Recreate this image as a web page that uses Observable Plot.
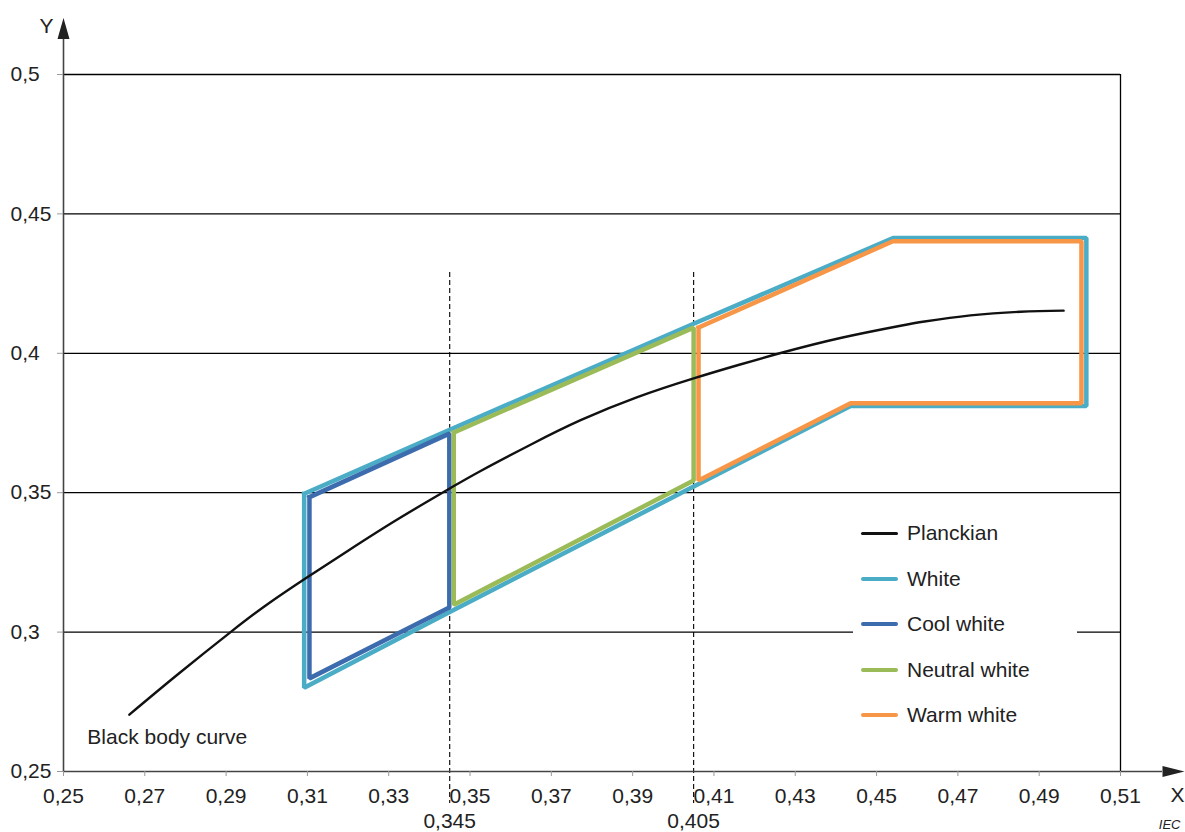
<!DOCTYPE html>
<html>
<head>
<meta charset="utf-8">
<script src="https://cdn.jsdelivr.net/npm/d3@7"></script>
<script src="https://cdn.jsdelivr.net/npm/@observablehq/plot@0.6"></script>
<style>
  html, body { margin: 0; padding: 0; background: #fff; overflow: hidden; }
  #wrap { position: relative; width: 1185px; height: 832px; font-family: "Liberation Sans", Arial, sans-serif; }
  #legend { position: absolute; left: 853px; top: 506px; width: 224px; height: 234px; background: #fff; }
  .item { position: absolute; left: 0; height: 24px; display: flex; align-items: center; font-size: 21px; color: #222; }
  .sw { display: inline-block; width: 37px; margin-left: 8px; margin-right: 9px; border-radius: 2px; }
</style>
</head>
<body>
<div id="wrap"></div>
<script>
// ---- data ----
const xTicks = [0.25, 0.27, 0.29, 0.31, 0.33, 0.35, 0.37, 0.39, 0.41, 0.43, 0.45, 0.47, 0.49, 0.51];
const yTicks = [0.25, 0.3, 0.35, 0.4, 0.45, 0.5];
const yGrid = [0.3, 0.35, 0.4, 0.45, 0.5];
const dashX = [0.345, 0.405];

const planckX = [0.2662, 0.2780, 0.2911, 0.3000, 0.3095, 0.3200, 0.3320, 0.3450, 0.3526, 0.3650, 0.3772, 0.3910, 0.4050, 0.4160, 0.4264, 0.4411, 0.4559, 0.4618, 0.4731, 0.4854, 0.4960];
const planckY = [0.2704, 0.2847, 0.3000, 0.3098, 0.3192, 0.3292, 0.3403, 0.3515, 0.3578, 0.3673, 0.3760, 0.3842, 0.3910, 0.3958, 0.4001, 0.4055, 0.4099, 0.4114, 0.4136, 0.4149, 0.4153];

const whiteX = [0.3092, 0.3450, 0.4050, 0.4542, 0.5016, 0.5016, 0.4436, 0.4050, 0.3450, 0.3092, 0.3092];
const whiteY = [0.3496, 0.3726, 0.4106, 0.4414, 0.4414, 0.3811, 0.3811, 0.3522, 0.3072, 0.2800, 0.3496];

const coolX = [0.3105, 0.3449, 0.3449, 0.3105, 0.3105];
const coolY = [0.3484, 0.3712, 0.3088, 0.2834, 0.3484];

const neutralX = [0.3460, 0.4050, 0.4050, 0.3460, 0.3460];
const neutralY = [0.3716, 0.4092, 0.3544, 0.3098, 0.3716];

const warmX = [0.4062, 0.4540, 0.5004, 0.5004, 0.4436, 0.4062, 0.4062];
const warmY = [0.4092, 0.4402, 0.4402, 0.3821, 0.3821, 0.3544, 0.4092];

const seriesNames = ["Planckian", "White", "Cool white", "Neutral white", "Warm white"];
const seriesColors = ["#111111", "#4bacc6", "#3d6cae", "#9bbb59", "#f79646"];

// ---- build tables ----
const zip = (xs, ys, s) => xs.map((x, i) => ({x, y: ys[i], s}));
const polys = [
  ...zip(whiteX, whiteY, "White"),
  ...zip(coolX, coolY, "Cool white"),
  ...zip(neutralX, neutralY, "Neutral white"),
  ...zip(warmX, warmY, "Warm white")
];
const planck = zip(planckX, planckY, "Planckian");
const color = Object.fromEntries(seriesNames.map((n, i) => [n, seriesColors[i]]));
const fmt = d => String(d).replace(".", ",");

const arrowUp = {draw(ctx) { ctx.moveTo(0, -10.5); ctx.lineTo(6, 10.5); ctx.lineTo(-6, 10.5); ctx.closePath(); }};
const arrowRight = {draw(ctx) { ctx.moveTo(11, 0); ctx.lineTo(-11, -5.5); ctx.lineTo(-11, 5.5); ctx.closePath(); }};

const axisColor = "#444";

const chart = Plot.plot({
  width: 1185,
  height: 832,
  marginLeft: 63,
  marginRight: 65,
  marginTop: 74,
  marginBottom: 61,
  x: {domain: [0.25, 0.51]},
  y: {domain: [0.25, 0.5]},
  style: {fontFamily: "'Liberation Sans', Arial, sans-serif", fontSize: "21px", color: "#222", background: "#fff"},
  marks: [
    Plot.ruleY(yGrid, {stroke: "#000", strokeWidth: 1.3}),
    Plot.ruleX([0.51], {stroke: "#000", strokeWidth: 1.3}),
    Plot.ruleX(dashX, {stroke: "#000", strokeWidth: 1.1, strokeDasharray: "5,3", insetTop: 198, insetBottom: -32}),
    Plot.line(polys, {x: "x", y: "y", z: "s", stroke: d => color[d.s], strokeWidth: 4.5, strokeLinejoin: "miter", strokeLinecap: "square"}),
    Plot.line(planck, {x: "x", y: "y", stroke: "#111", strokeWidth: 2.4, curve: "natural"}),
    Plot.text([planck[0]], {x: "x", y: "y", text: () => "Black body curve", textAnchor: "start", dx: -42, dy: 23, fill: "#222"}),
    Plot.ruleX([0.25], {stroke: axisColor, strokeWidth: 1.6, insetTop: -35}),
    Plot.ruleY([0.25], {stroke: axisColor, strokeWidth: 1.6, insetRight: -42}),
    Plot.dot([0], {frameAnchor: "top-left", dy: -46, symbol: arrowUp, fill: "#222", stroke: null}),
    Plot.dot([0], {frameAnchor: "bottom-right", dx: 53, symbol: arrowRight, fill: "#222", stroke: null}),
    Plot.axisX({ticks: xTicks, tickFormat: fmt, tickSize: 5, tickPadding: 12, stroke: "#999", fill: "#222", label: null}),
    Plot.axisX({ticks: dashX, tickFormat: fmt, tickSize: 0, tickPadding: 42, fill: "#222", label: null}),
    Plot.axisY({ticks: yTicks, tickFormat: fmt, tickSize: 6, tickPadding: 47, textAnchor: "start", stroke: "#999", fill: "#222", label: null}),
    Plot.text(["Y"], {frameAnchor: "top-left", textAnchor: "middle", lineAnchor: "middle", dx: -17, dy: -48, fill: "#222"}),
    Plot.text(["X"], {frameAnchor: "bottom-right", textAnchor: "middle", lineAnchor: "middle", dx: 57, dy: 24, fill: "#222"}),
    Plot.text(["IEC"], {frameAnchor: "bottom-right", textAnchor: "end", lineAnchor: "middle", dx: 60, dy: 53, fontSize: 13, fontStyle: "italic", fill: "#222"})
  ]
});

const wrap = document.getElementById("wrap");
wrap.appendChild(chart);

// legend (HTML overlay inside the plot area)
const legend = document.createElement("div");
legend.id = "legend";
const rowTops = [0, 45.5, 91, 136.5, 182];
seriesNames.forEach((name, i) => {
  const item = document.createElement("div");
  item.className = "item";
  item.style.top = (15 + rowTops[i]) + "px";
  const sw = document.createElement("span");
  sw.className = "sw";
  sw.style.height = i === 0 ? "3px" : "4px";
  sw.style.background = seriesColors[i];
  const t = document.createElement("span");
  t.textContent = name;
  item.appendChild(sw);
  item.appendChild(t);
  legend.appendChild(item);
});
wrap.appendChild(legend);
</script>
</body>
</html>
